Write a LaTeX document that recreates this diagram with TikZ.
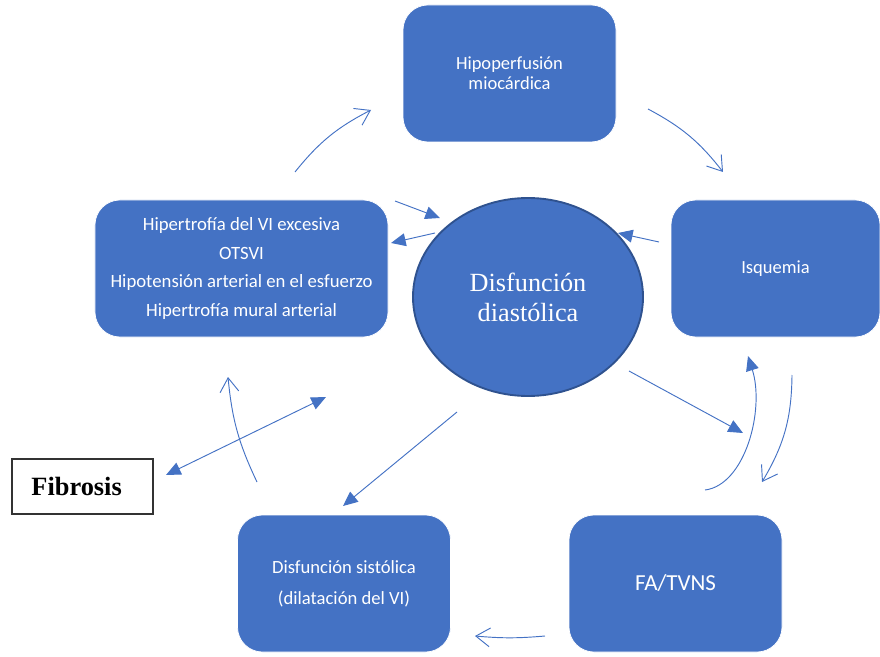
\documentclass[tikz,border=0pt]{standalone}
\usepackage{fontspec}
\setmainfont{Liberation Serif}
\newfontfamily\calib{Carlito}
\usetikzlibrary{shapes,positioning,calc,arrows.meta}
\definecolor{boxblue}{HTML}{4472C4}
\definecolor{rimblue}{HTML}{2F528F}

\begin{document}
\begin{tikzpicture}
  [x=0.03cm,y=-0.03cm,
   line width=0.8pt,
   boxN/.style={draw=white,line width=0.6pt,fill=boxblue,rounded corners=0.75cm,
     minimum width=6.39cm,minimum height=4.11cm,text=white,align=center,
     font=\calib\fontsize{15.8}{17}\selectfont},
   wideN/.style={boxN,minimum width=8.79cm,font=\calib\fontsize{16}{24.7}\selectfont},
   circN/.style={ellipse,draw=rimblue,line width=1.6pt,fill=boxblue,text=white,
     minimum width=6.9cm,minimum height=5.94cm,align=center,
     font=\fontsize{22.4}{25.5}\selectfont},
   fibN/.style={draw=black!80,fill=white,line width=1pt,minimum width=4.23cm,
     minimum height=1.65cm,font=\bfseries\fontsize{22.5}{25}\selectfont},
   solidA/.style={draw=boxblue,-{Triangle[length=12.5pt,width=11pt]}},
   dblA/.style={draw=boxblue,{Triangle[length=12.5pt,width=11pt]}-{Triangle[length=12.5pt,width=11pt]}},
   openA/.style={draw=boxblue,-{Straight Barb[length=12pt,width=16pt]}},
  ]
  \useasboundingbox (0,0) rectangle (880,657);
  \clip (0,0) rectangle (880,657);

  % boxes
  \node[boxN] (hipo) at (509.5,73.5) {Hipoperfusión\\miocárdica};
  \node[boxN,minimum width=6.27cm] (isq) at (775.5,268.5) {Isquemia};
  \node[wideN] (hiper) at (241.5,268.5)
    {Hipertrofía del VI excesiva\\OTSVI\\Hipotensión arterial en el esfuerzo\\Hipertrofía mural arterial};
  \node[boxN,font=\calib\fontsize{19.6}{20}\selectfont] (fatv) at (675.5,583.5) {FA/TVNS};
  \node[boxN,font=\calib\fontsize{15.9}{26.4}\selectfont] (sist) at (344,583.5)
    {Disfunción sistólica\\(dilatación del VI)};
  \node[circN] (dias) at (528,297) {Disfunción\\diastólica};
  \node[fibN] (fib) at (82.5,486.5) {\hspace*{-10pt}Fibrosis};

  % arrow ends
  \coordinate (a1s) at (295,172);  \coordinate (a1e) at (371,110);
  \coordinate (a2s) at (648,109);  \coordinate (a2e) at (723,172);
  \coordinate (a3s) at (395,201);  \coordinate (a3e) at (440,218);
  \coordinate (a4s) at (435,233);  \coordinate (a4e) at (391,243);
  \coordinate (a5s) at (659,242);  \coordinate (a5e) at (618,233);
  \coordinate (a6s) at (629,371);  \coordinate (a6e) at (743,433);
  \coordinate (a7s) at (705,490);  \coordinate (a7e) at (748,356);
  \coordinate (a8s) at (792,375);  \coordinate (a8e) at (762,482);
  \coordinate (a9s) at (457,412);  \coordinate (a9e) at (343,506);
  \coordinate (f1) at (326,397);   \coordinate (f2) at (166,475);
  \coordinate (a11s) at (257,482); \coordinate (a11e) at (228,377);
  \coordinate (a12s) at (545,636); \coordinate (a12e) at (475,636);

  % cycle
  \draw[openA] (a1s) to[bend left=12] (a1e);
  \draw[openA] (a2s) to[bend left=12] (a2e);
  \draw[solidA] (a3s) -- (a3e);
  \draw[solidA] (a4s) -- (a4e);
  \draw[solidA] (a5s) -- (a5e);
  \draw[solidA] (a6s) -- (a6e);
  \draw[solidA] (a7s) .. controls (745,485) and (765,410) .. (a7e);
  \draw[openA] (a8s) to[bend left=15] (a8e);
  \draw[solidA] (a9s) -- (a9e);
  \draw[dblA] (f1) -- (f2);
  \draw[openA] (a11s) to[bend left=10] (a11e);
  \draw[openA] (a12s) to[bend left=5] (a12e);
\end{tikzpicture}
\end{document}
